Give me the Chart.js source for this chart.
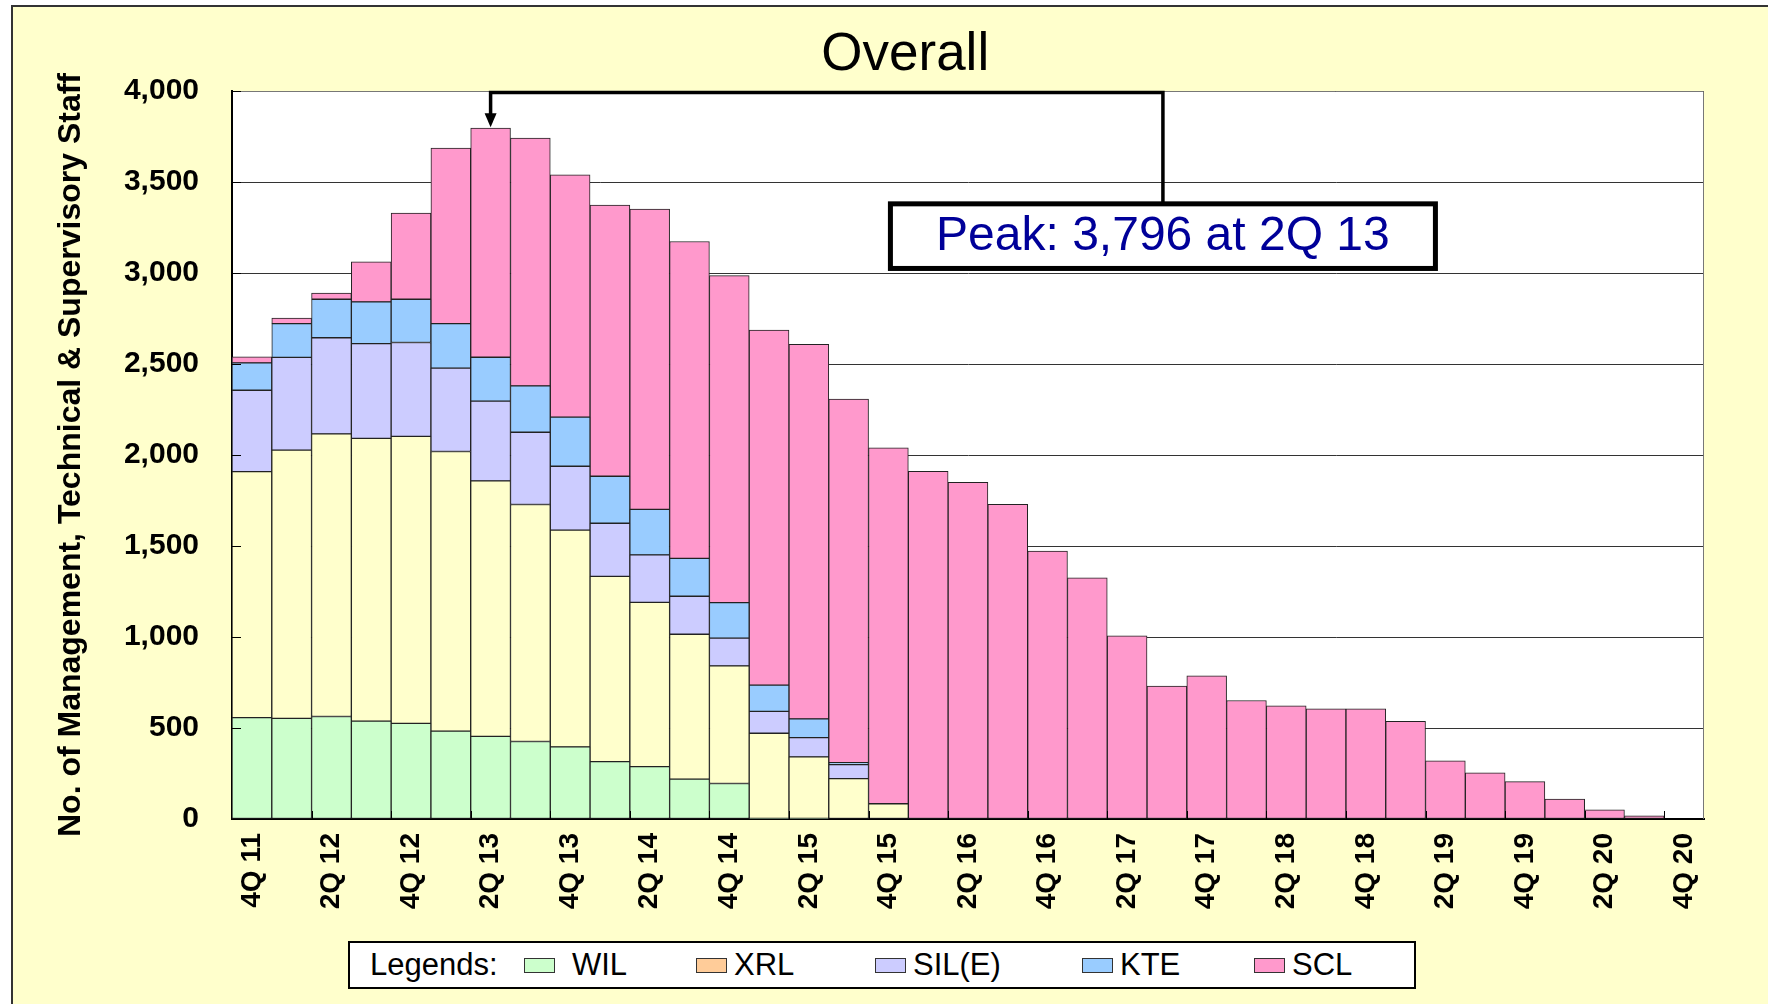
<!DOCTYPE html>
<html>
<head>
<meta charset="utf-8">
<script src="https://cdn.jsdelivr.net/npm/chart.js@4.4.1/dist/chart.umd.min.js"></script>
<style>
  html, body { margin: 0; padding: 0; background: #fff; }
  #wrap { position: relative; width: 1768px; height: 1004px; overflow: hidden; }
  #frame { position: absolute; left: 11px; top: 5px; right: -4px; bottom: -4px;
           background: #FFFFCC; border-left: 2px solid #333; border-top: 2px solid #333; }
  #chart { position: absolute; left: 0; top: 0; }
  #legend { position: absolute; left: 348px; top: 941px; width: 1064px; height: 44px;
            border: 2px solid #000; background: #fff;
            font: 31px "Liberation Sans", Arial, sans-serif; color: #000; }
  .lg { position: absolute; top: 0; height: 44px; display: flex; align-items: center; white-space: nowrap; }
  .sw { width: 29px; height: 13px; border: 1px solid #333; display: inline-block; }
</style>
</head>
<body>
<div id="wrap">
  <div id="frame"></div>
  <canvas id="chart" width="1768" height="1004"></canvas>
  <div id="legend"></div>
</div>
<script>
// 四半期ラベル
const quarterLabels = ['4Q 11', '1Q 12', '2Q 12', '3Q 12', '4Q 12', '1Q 13', '2Q 13', '3Q 13', '4Q 13',
    '1Q 14', '2Q 14', '3Q 14', '4Q 14', '1Q 15', '2Q 15', '3Q 15', '4Q 15', '1Q 16', '2Q 16', '3Q 16',
    '4Q 16', '1Q 17', '2Q 17', '3Q 17', '4Q 17', '1Q 18', '2Q 18', '3Q 18', '4Q 18', '1Q 19', '2Q 19',
    '3Q 19', '4Q 19', '1Q 20', '2Q 20', '3Q 20', '4Q 20'];

// 各路線の人数
const wil = [557, 553, 563, 538, 525, 483, 454, 426, 396, 315, 288, 219, 195, 3, 3, 0, 0,
    0, 0, 0, 0, 0, 0, 0, 0, 0, 0, 0, 0, 0, 0, 0, 0, 0, 0, 0, 0];
const xrl = [1352, 1474, 1553, 1553, 1577, 1536, 1404, 1302, 1191, 1018, 902, 796, 646, 468, 338, 222, 84,
    0, 0, 0, 0, 0, 0, 0, 0, 0, 0, 0, 0, 0, 0, 0, 0, 0, 0, 0, 0];
const silE = [447, 509, 528, 521, 516, 458, 438, 397, 351, 292, 261, 209, 153, 120, 106, 77, 0,
    0, 0, 0, 0, 0, 0, 0, 0, 0, 0, 0, 0, 0, 0, 0, 0, 0, 0, 0, 0];
const kte = [150, 186, 212, 229, 238, 245, 241, 255, 270, 258, 250, 208, 195, 145, 103, 10, 0,
    0, 0, 0, 0, 0, 0, 0, 0, 0, 0, 0, 0, 0, 0, 0, 0, 0, 0, 0, 0];
const scl = [34, 30, 33, 220, 473, 965, 1259, 1362, 1332, 1490, 1650, 1741, 1797, 1950, 2058, 1998, 1956,
    1910, 1850, 1729, 1472, 1325, 1006, 731, 786, 651, 622, 605, 605, 537, 320, 253, 205, 110, 51, 18, 0];

const seriesNames = ['WIL', 'XRL', 'SIL(E)', 'KTE', 'SCL'];
const barColors = ['#CCFFCC', '#FFFFCC', '#CCCCFF', '#99CCFF', '#FF99CC'];
const legendColors = ['#CCFFCC', '#FFCC99', '#CCCCFF', '#99CCFF', '#FF99CC'];
const yTicks = [0, 500, 1000, 1500, 2000, 2500, 3000, 3500, 4000];

const FONT = '"Liberation Sans", Arial, sans-serif';
const fmt = n => n.toLocaleString('en-US');

const seriesValues = [wil, xrl, silE, kte, scl];
const totals = quarterLabels.map((_, i) => seriesValues.reduce((s, arr) => s + arr[i], 0));
const peakValue = Math.max(...totals);
const peakIndex = totals.indexOf(peakValue);

// プロットエリアの背景・枠・目盛り
const plotFrame = {
    id: 'plotFrame',
    beforeDraw(c) {
        const a = c.chartArea, ctx = c.ctx;
        ctx.save();
        ctx.fillStyle = '#fff';
        ctx.fillRect(a.left, a.top, a.right - a.left, a.bottom - a.top);
        ctx.restore();
    },
    afterDatasetsDraw(c) {
        const a = c.chartArea, ctx = c.ctx, ys = c.scales.y, xs = c.scales.x;
        ctx.save();
        ctx.strokeStyle = '#777';
        ctx.lineWidth = 1;
        ctx.beginPath();
        ctx.moveTo(a.left, a.top + 0.5);
        ctx.lineTo(a.right - 0.5, a.top + 0.5);
        ctx.lineTo(a.right - 0.5, a.bottom);
        ctx.stroke();
        // 内向きの目盛り
        ctx.strokeStyle = '#000';
        ctx.beginPath();
        yTicks.forEach(v => {
            const y = Math.round(ys.getPixelForValue(v)) + 0.5;
            ctx.moveTo(a.left, y);
            ctx.lineTo(a.left + 9, y);
        });
        quarterLabels.forEach((_, i) => {
            if (i % 2 === 0 && i > 0) {
                const x = Math.round((xs.getPixelForValue(i - 1) + xs.getPixelForValue(i)) / 2) + 0.5;
                ctx.moveTo(x, a.bottom);
                ctx.lineTo(x, a.bottom - 8);
            }
        });
        ctx.stroke();
        ctx.restore();
    }
};

// タイトルとピーク注記
const overlays = {
    id: 'overlays',
    afterDraw(c) {
        const ctx = c.ctx, a = c.chartArea, xs = c.scales.x, ys = c.scales.y;
        ctx.save();
        ctx.fillStyle = '#000';
        ctx.font = `53px ${FONT}`;
        ctx.textAlign = 'center';
        ctx.textBaseline = 'middle';
        ctx.fillText('Overall', c.width * 0.512, 55);

        const px = xs.getPixelForValue(peakIndex);
        const tipY = ys.getPixelForValue(peakValue) - 1;
        const topY = a.top + 1.5;
        const bx = xs.getPixelForValue(23) - 4;
        const boxTop = ys.getPixelForValue(3380);
        const boxBottom = ys.getPixelForValue(3025);
        const boxW = 545;

        ctx.strokeStyle = '#000';
        ctx.lineWidth = 3.5;
        ctx.beginPath();
        ctx.moveTo(px, tipY - 12);
        ctx.lineTo(px, topY);
        ctx.lineTo(bx, topY);
        ctx.lineTo(bx, boxTop);
        ctx.stroke();
        ctx.beginPath();
        ctx.moveTo(px, tipY);
        ctx.lineTo(px - 6, tipY - 14);
        ctx.lineTo(px + 6, tipY - 14);
        ctx.closePath();
        ctx.fill();

        ctx.fillStyle = '#fff';
        ctx.fillRect(bx - boxW / 2, boxTop, boxW, boxBottom - boxTop);
        ctx.lineWidth = 5;
        ctx.strokeRect(bx - boxW / 2, boxTop, boxW, boxBottom - boxTop);

        ctx.fillStyle = '#000099';
        ctx.font = `48px ${FONT}`;
        ctx.fillText(`Peak: ${fmt(peakValue)} at ${quarterLabels[peakIndex]}`, bx, (boxTop + boxBottom) / 2 + 1);
        ctx.restore();
    }
};

const datasets = seriesNames.map((name, k) => ({
    label: name,
    data: seriesValues[k],
    backgroundColor: barColors[k],
    borderColor: '#222',
    borderWidth: 1,
    borderSkipped: false,
    barPercentage: 1,
    categoryPercentage: 1
}));

new Chart(document.getElementById('chart'), {
    type: 'bar',
    data: { labels: quarterLabels, datasets: datasets },
    options: {
        responsive: false,
        animation: false,
        layout: { padding: { left: 12, right: 64, top: 91, bottom: 0 } },
        plugins: {
            legend: { display: false },
            tooltip: { enabled: false },
            title: { display: false }
        },
        scales: {
            x: {
                stacked: true,
                grid: { display: false, drawTicks: false },
                border: { color: '#000', width: 2 },
                ticks: {
                    autoSkip: false,
                    maxRotation: 90,
                    minRotation: 90,
                    padding: 14,
                    color: '#000',
                    font: { family: FONT, size: 28, weight: 'bold' },
                    callback: (v, i) => (i % 2 === 0 ? quarterLabels[i] : '')
                },
                afterFit: s => { s.height = 185; }
            },
            y: {
                stacked: true,
                min: 0,
                max: 4000,
                ticks: {
                    stepSize: 500,
                    padding: 33,
                    color: '#000',
                    font: { family: FONT, size: 30, weight: 'bold' },
                    callback: v => fmt(v)
                },
                grid: { color: '#333', lineWidth: 1, drawTicks: false },
                border: { color: '#000', width: 2 },
                title: {
                    display: true,
                    text: 'No. of Management, Technical & Supervisory Staff',
                    color: '#000',
                    font: { family: FONT, size: 32, weight: 'bold' },
                    padding: { top: 40, bottom: 0 }
                },
                afterFit: s => { s.width = 220; }
            }
        }
    },
    plugins: [plotFrame, overlays]
});

// 凡例（HTML）
const legendSlots = [174, 346, 525, 732, 904];
const legendGaps = [17, 7, 7, 7, 7];
const legend = document.getElementById('legend');
legend.innerHTML = '<div class="lg" style="left:20px">Legends:</div>' +
    seriesNames.map((name, k) =>
        `<div class="lg" style="left:${legendSlots[k]}px"><span class="sw" style="background:${legendColors[k]};margin-right:${legendGaps[k]}px"></span>${name}</div>`
    ).join('');
</script>
</body>
</html>
